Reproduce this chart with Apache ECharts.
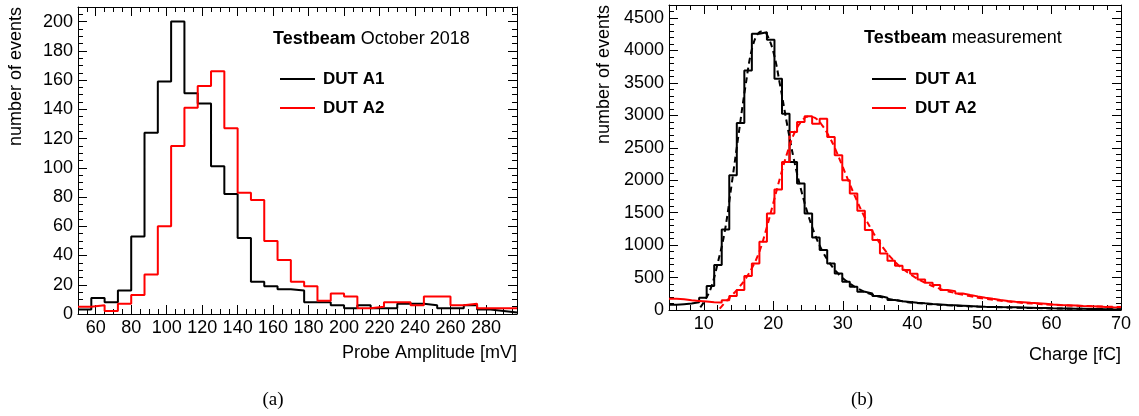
<!DOCTYPE html>
<html><head><meta charset="utf-8">
<script src="https://cdn.jsdelivr.net/npm/echarts@6/dist/echarts.min.js"></script>
<style>html,body{margin:0;padding:0;background:#fff}#c{width:1139px;height:416px}</style>
</head><body><div id="c"></div>
<script>
// ---- (a) Probe amplitude histograms: 33 bins of 7.5 mV starting at 50 mV
const ampMin = 50;
const ampBinWidth = 7.5;
const ampA1 = [3, 11, 8, 16, 53, 124, 159, 200, 151, 144, 101, 82, 52, 22, 19, 17, 16, 8, 8, 6, 4, 6, 4, 4, 7, 7, 6, 4, 4, 6, 3, 2, 1];
const ampA2 = [5, 6, 2, 7, 13, 27, 60, 115, 141, 156, 166, 127, 83, 78, 50, 37, 22, 19, 9, 14, 12, 4, 5, 8, 8, 6, 12, 12, 6, 7, 4, 4, 4];

// ---- (b) Charge histograms: 60 bins from 5 to 70 fC
const chgMin = 5;
const chgBinWidth = 65 / 60;
const chgA1 = [80, 90, 100, 120, 190, 370, 692, 1240, 2077, 2882, 3692, 4256, 4280, 4164, 3564, 3026, 2282, 1949, 1487, 1118,
  923, 718, 564, 436, 359, 282, 256, 215, 190, 154, 135, 124, 113, 103, 94, 86, 78, 72, 66, 60,
  55, 51, 48, 45, 43, 41, 38, 35, 32, 29, 26, 24, 22, 20, 18, 16, 14, 12, 10, 9];
const chgA2 = [175, 165, 150, 140, 130, 120, 115, 150, 215, 308, 523, 718, 1051, 1487, 1856, 2282, 2744, 2897, 2985, 2872,
  2949, 2667, 2385, 2000, 1795, 1528, 1231, 1077, 872, 760, 680, 615, 560, 470, 420, 385, 310, 290, 255, 232,
  210, 190, 172, 155, 140, 128, 120, 110, 103, 95, 86, 78, 74, 68, 62, 58, 54, 48, 42, 40];

// ---- fitted curves (dashed)
const fitA1X = [9.5, 10, 11, 12, 13, 14, 15, 16, 17, 18, 18.5, 19, 20, 21, 22, 23, 24, 25, 26, 27, 28, 29, 30, 32, 34, 36, 38, 40, 45, 50, 55, 60, 65, 70];
const fitA1Y = [40, 120, 330, 720, 1200, 1930, 2700, 3450, 4050, 4280, 4290, 4260, 3980, 3450, 2850, 2300, 1850, 1470, 1160, 920, 740, 600, 490, 340, 245, 185, 145, 113, 73, 50, 36, 25, 17, 11];
const fitA2X = [12.3, 13, 14, 15, 16, 17, 18, 19, 20, 21, 22, 23, 24, 25, 26, 27, 28, 29, 30, 31, 32, 33, 34, 35, 36, 37, 38, 40, 42, 44, 46, 48, 50, 55, 60, 65, 70];
const fitA2Y = [20, 110, 220, 340, 480, 660, 900, 1250, 1650, 2050, 2420, 2720, 2900, 2980, 2960, 2850, 2680, 2460, 2200, 1940, 1690, 1460, 1260, 1080, 930, 800, 690, 530, 410, 325, 265, 218, 180, 118, 82, 60, 45];

const seriesNames = ['DUT A1', 'DUT A2'];
const seriesColors = ['#000000', '#ff0000'];

function stepData(min, w, vals) {
  const d = vals.map((v, i) => [min + i * w, v]);
  d.push([min + vals.length * w, vals[vals.length - 1]]);
  return d;
}
function pairs(xs, ys) { return xs.map((x, i) => [x, ys[i]]); }

const FONT = '"Liberation Sans", Arial, Helvetica, sans-serif';

function axis(o) {
  const base = {
    type: 'value',
    axisLine: { show: true, onZero: false, lineStyle: { color: '#000', width: 1 } },
    splitLine: { show: false },
    axisTick: { show: true, inside: true, length: 9, lineStyle: { color: '#000', width: 1 } },
    minorTick: { show: true, splitNumber: o.minor, length: 5, lineStyle: { color: '#000', width: 1 } },
    axisLabel: { show: !o.hideLabels, color: '#000', fontSize: 18, fontFamily: FONT, margin: 5,
      showMinLabel: o.showMin, showMaxLabel: o.showMax, formatter: v => String(v) },
    gridIndex: o.grid, position: o.position, min: o.min, max: o.max
  };
  if (o.interval) base.interval = o.interval;
  if (o.splitNumber) base.splitNumber = o.splitNumber;
  return base;
}

const chart = echarts.init(document.getElementById('c'), null, { renderer: 'canvas' });

const option = {
  animation: false,
  backgroundColor: '#fff',
  grid: [
    { left: 78, right: 1139 - 517, top: 7, bottom: 416 - 314, containLabel: false },
    { left: 669, right: 1139 - 1121, top: 5, bottom: 416 - 310, containLabel: false }
  ],
  xAxis: [
    axis({ grid: 0, position: 'bottom', min: 50, max: 297.5, splitNumber: 12, minor: 4, showMin: false, showMax: false }),
    axis({ grid: 0, position: 'top', min: 50, max: 297.5, splitNumber: 12, minor: 4, hideLabels: true }),
    axis({ grid: 1, position: 'bottom', min: 5, max: 70, splitNumber: 6, minor: 5, showMin: false, showMax: true }),
    axis({ grid: 1, position: 'top', min: 5, max: 70, splitNumber: 6, minor: 5, hideLabels: true })
  ],
  yAxis: [
    axis({ grid: 0, position: 'left', min: 0, max: 210, interval: 20, minor: 4, showMin: true, showMax: false }),
    axis({ grid: 0, position: 'right', min: 0, max: 210, interval: 20, minor: 4, hideLabels: true }),
    axis({ grid: 1, position: 'left', min: 0, max: 4700, interval: 500, minor: 5, showMin: true, showMax: false }),
    axis({ grid: 1, position: 'right', min: 0, max: 4700, interval: 500, minor: 5, hideLabels: true })
  ],
  series: [
    { name: seriesNames[0], type: 'line', step: 'end', xAxisIndex: 0, yAxisIndex: 0, showSymbol: false,
      data: stepData(ampMin, ampBinWidth, ampA1), lineStyle: { color: seriesColors[0], width: 2 }, itemStyle: { color: seriesColors[0] } },
    { name: seriesNames[1], type: 'line', step: 'end', xAxisIndex: 0, yAxisIndex: 0, showSymbol: false,
      data: stepData(ampMin, ampBinWidth, ampA2), lineStyle: { color: seriesColors[1], width: 2 }, itemStyle: { color: seriesColors[1] } },
    { name: seriesNames[0], type: 'line', step: 'end', xAxisIndex: 2, yAxisIndex: 2, showSymbol: false,
      data: stepData(chgMin, chgBinWidth, chgA1), lineStyle: { color: seriesColors[0], width: 2 }, itemStyle: { color: seriesColors[0] } },
    { name: seriesNames[1], type: 'line', step: 'end', xAxisIndex: 2, yAxisIndex: 2, showSymbol: false,
      data: stepData(chgMin, chgBinWidth, chgA2), lineStyle: { color: seriesColors[1], width: 2 }, itemStyle: { color: seriesColors[1] } },
    { name: seriesNames[0] + ' fit', type: 'line', smooth: 0.4, xAxisIndex: 2, yAxisIndex: 2, showSymbol: false,
      data: pairs(fitA1X, fitA1Y), lineStyle: { color: seriesColors[0], width: 2, type: [6, 4] } },
    { name: seriesNames[1] + ' fit', type: 'line', smooth: 0.4, xAxisIndex: 2, yAxisIndex: 2, showSymbol: false,
      data: pairs(fitA2X, fitA2Y), lineStyle: { color: seriesColors[1], width: 2, type: [6, 4] } }
  ],
  graphic: [
    // y axis titles
    { type: 'text', x: 16, y: 7, rotation: Math.PI / 2,
      style: { text: 'number of events', font: '18px ' + FONT, fill: '#000', align: 'right', verticalAlign: 'middle' } },
    { type: 'text', x: 604, y: 5, rotation: Math.PI / 2,
      style: { text: 'number of events', font: '18px ' + FONT, fill: '#000', align: 'right', verticalAlign: 'middle' } },
    // x axis titles
    { type: 'text', x: 517, y: 353,
      style: { text: 'Probe Amplitude [mV]', font: '18px ' + FONT, fill: '#000', align: 'right', verticalAlign: 'middle' } },
    { type: 'text', x: 1121, y: 355,
      style: { text: 'Charge [fC]', font: '18px ' + FONT, fill: '#000', align: 'right', verticalAlign: 'middle' } },
    // headers
    { type: 'text', x: 273, y: 39,
      style: { text: '{b|Testbeam} October 2018', font: '18px ' + FONT, fill: '#000', verticalAlign: 'middle',
        rich: { b: { fontWeight: 'bold', fontSize: 18, fontFamily: FONT } } } },
    { type: 'text', x: 864, y: 38,
      style: { text: '{b|Testbeam} measurement', font: '18px ' + FONT, fill: '#000', verticalAlign: 'middle',
        rich: { b: { fontWeight: 'bold', fontSize: 18, fontFamily: FONT } } } },
    // legends (a)
    { type: 'line', shape: { x1: 280, y1: 79, x2: 315, y2: 79 }, style: { stroke: seriesColors[0], lineWidth: 2 } },
    { type: 'text', x: 323, y: 79, style: { text: seriesNames[0], font: 'bold 17px ' + FONT, fill: '#000', verticalAlign: 'middle' } },
    { type: 'line', shape: { x1: 280, y1: 108, x2: 315, y2: 108 }, style: { stroke: seriesColors[1], lineWidth: 2 } },
    { type: 'text', x: 323, y: 108, style: { text: seriesNames[1], font: 'bold 17px ' + FONT, fill: '#000', verticalAlign: 'middle' } },
    // legends (b)
    { type: 'line', shape: { x1: 872, y1: 79, x2: 906, y2: 79 }, style: { stroke: seriesColors[0], lineWidth: 2 } },
    { type: 'text', x: 915, y: 79, style: { text: seriesNames[0], font: 'bold 17px ' + FONT, fill: '#000', verticalAlign: 'middle' } },
    { type: 'line', shape: { x1: 872, y1: 108, x2: 906, y2: 108 }, style: { stroke: seriesColors[1], lineWidth: 2 } },
    { type: 'text', x: 915, y: 108, style: { text: seriesNames[1], font: 'bold 17px ' + FONT, fill: '#000', verticalAlign: 'middle' } },
    // sub-figure captions
    { type: 'text', x: 273, y: 400, style: { text: '(a)', font: '19px "Liberation Serif", "Times New Roman", serif', fill: '#000', align: 'center', verticalAlign: 'middle' } },
    { type: 'text', x: 862, y: 400, style: { text: '(b)', font: '19px "Liberation Serif", "Times New Roman", serif', fill: '#000', align: 'center', verticalAlign: 'middle' } }
  ]
};
chart.setOption(option);
</script>
</body></html>
